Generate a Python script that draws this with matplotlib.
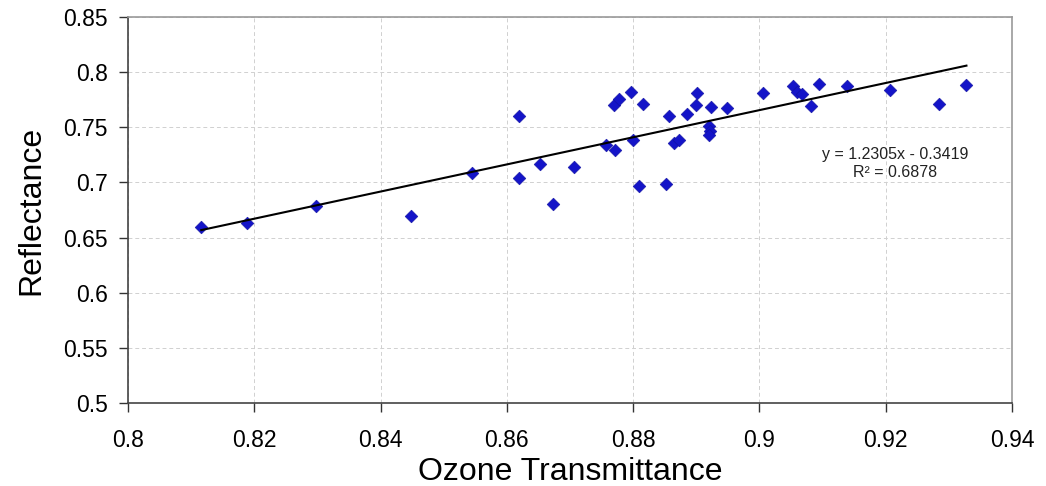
import matplotlib
matplotlib.use("Agg")
import matplotlib.pyplot as plt
import numpy as np

plt.rcParams["font.family"] = ["Liberation Sans", "DejaVu Sans"]

# data
transmittance = [0.8116, 0.8188, 0.8298, 0.8448, 0.8545, 0.8619, 0.8619, 0.8653,
                 0.8673, 0.8707, 0.8757, 0.8771, 0.8770, 0.8778, 0.8796, 0.8800,
                 0.8815, 0.8810, 0.8852, 0.8857, 0.8865, 0.8873, 0.8886, 0.8901,
                 0.8900, 0.8923, 0.8921, 0.8922, 0.8921, 0.8948, 0.9006, 0.9054,
                 0.9059, 0.9067, 0.9081, 0.9094, 0.9139, 0.9207, 0.9284, 0.9328]
reflectance = [0.6596, 0.6630, 0.6787, 0.6696, 0.7086, 0.7600, 0.7040, 0.7167,
               0.6805, 0.7140, 0.7340, 0.7290, 0.7700, 0.7757, 0.7820, 0.7384,
               0.7710, 0.6968, 0.6986, 0.7598, 0.7357, 0.7385, 0.7620, 0.7810,
               0.7700, 0.7680, 0.7513, 0.7470, 0.7432, 0.7675, 0.7810, 0.7875,
               0.7820, 0.7800, 0.7690, 0.7890, 0.7870, 0.7842, 0.7709, 0.7882]

slope, intercept = 1.2305, -0.3419
r_squared = 0.6878

fig = plt.figure(figsize=(10.46, 4.86), dpi=100)
ax = fig.add_axes([0.1224, 0.1708, 0.845, 0.7942])

ax.grid(True, color="#d0d0d0", linestyle=(0, (4, 3)), linewidth=0.7)
ax.set_axisbelow(True)

ax.scatter(transmittance, reflectance, marker="D", s=42, color="#1414c8",
           edgecolors="#1010a0", linewidths=0.4, zorder=3)

xs = np.array([min(transmittance), max(transmittance)])
ax.plot(xs, slope * xs + intercept, color="black", lw=1.5, zorder=4)

ax.text(0.9215, 0.7249, "y = 1.2305x - 0.3419", ha="center", va="center",
        fontsize=11.5, color="#222222")
ax.text(0.9215, 0.7086, "R² = %.4f" % r_squared, ha="center", va="center",
        fontsize=11.5, color="#222222")

ax.set_xlim(0.8, 0.94)
ax.set_ylim(0.5, 0.85)
ax.set_xticks(np.arange(0.8, 0.9401, 0.02))
ax.set_yticks(np.arange(0.5, 0.8501, 0.05))
fmt = plt.FuncFormatter(lambda v, p: ("%.2f" % v).rstrip("0").rstrip("."))
ax.xaxis.set_major_formatter(fmt)
ax.yaxis.set_major_formatter(fmt)
ax.tick_params(direction="out", length=6.5, width=1, labelsize=16.5, color="#333333")
ax.tick_params(axis="y", pad=8)
ax.tick_params(axis="x", pad=12)

for side in ("left", "bottom"):
    ax.spines[side].set_color("#444444")
    ax.spines[side].set_linewidth(1.2)
for side in ("top", "right"):
    ax.spines[side].set_color("#999999")
    ax.spines[side].set_linewidth(1.2)

ax.set_xlabel("Ozone Transmittance", fontsize=23, labelpad=4)
ax.set_ylabel("Reflectance", fontsize=23, labelpad=12)

fig.savefig("out.png", dpi=100)
